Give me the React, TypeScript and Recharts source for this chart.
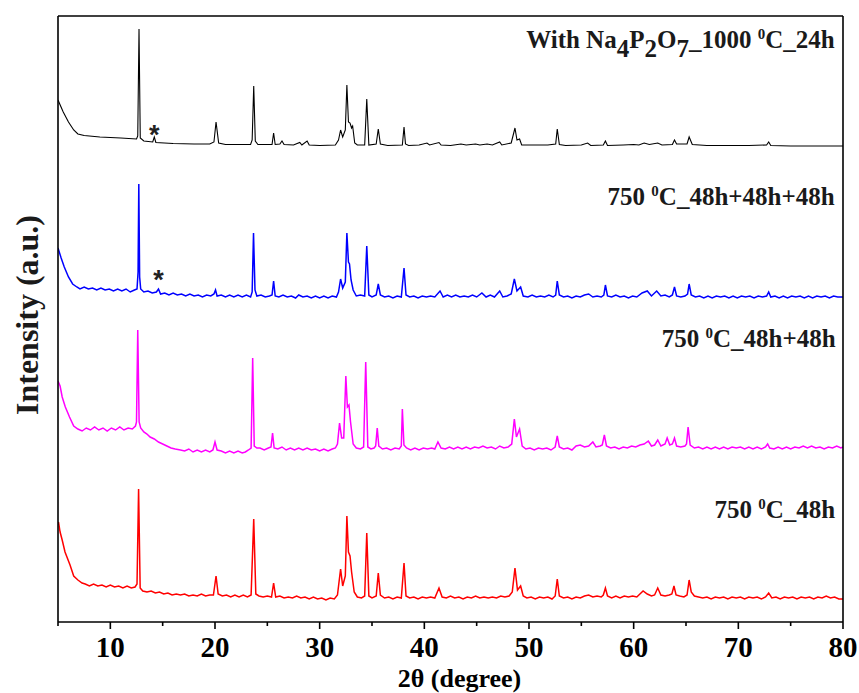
import React from "react";
import { LineChart, Line, XAxis, YAxis, ReferenceDot } from "recharts";

// 2θ (degree) vs intensity (a.u.), four stacked XRD patterns
const pattern1000C24h: [number, number][] = [
  [5.0, 522], [5.5, 510], [6.0, 500], [6.5, 492], [6.9, 488], [7.5, 486.5], [9, 485], [11, 484], [12.5, 483],
  [12.62, 486], [12.74, 593], [12.86, 484], [13.2, 481], [14.05, 480], [14.2, 485], [14.35, 479.5], [16, 478.5],
  [18, 478], [19.5, 478], [19.9, 480], [20.1, 500], [20.35, 479], [21, 477.5], [22.5, 477.5], [23.4, 477.5],
  [23.55, 482], [23.7, 536], [23.85, 481], [24.1, 477.5], [25.45, 477.5], [25.6, 489], [25.75, 477.5], [26.2, 478],
  [26.4, 481], [26.6, 477.5], [27.5, 477], [28.1, 479.5], [28.3, 477], [28.8, 481], [29, 477], [30, 476.5],
  [31.5, 477], [31.8, 482], [32.0, 492], [32.2, 485], [32.45, 492], [32.6, 537], [32.75, 500], [32.9, 499],
  [33.05, 494], [33.15, 496], [33.35, 479], [33.6, 477], [34.3, 477], [34.5, 523], [34.7, 477], [35.4, 478],
  [35.6, 493], [35.8, 478], [36.5, 476.5], [37.9, 477], [38.06, 495], [38.2, 478], [38.5, 476.5], [39.5, 477],
  [40.25, 479], [40.5, 477], [41.4, 479.5], [41.6, 477], [42.5, 476.5], [43.5, 478], [44, 477], [44.9, 478],
  [45.3, 477], [46, 478], [46.5, 477], [47.2, 480], [47.4, 477], [48.3, 479], [48.66, 494], [48.85, 482],
  [49.1, 483], [49.3, 477], [50.5, 477], [51.8, 477], [52.55, 478], [52.7, 493], [52.9, 477.5], [53.5, 476.5],
  [55, 477], [55.6, 479], [55.9, 476.5], [57.1, 477], [57.3, 481], [57.5, 476.5], [59, 477], [60, 477.5],
  [60.5, 477], [61.0, 479], [61.5, 477.5], [62.3, 479], [62.7, 477], [63.7, 477.5], [63.9, 482], [64.1, 478],
  [65.1, 478], [65.3, 485], [65.6, 477.5], [67, 476.5], [69, 476.5], [71, 476.5], [72.7, 477], [72.9, 480],
  [73.1, 476.5], [75, 476], [77, 476], [80, 476],
];

const pattern750C144h: [number, number][] = [
  [5.0, 374], [5.3, 364], [5.6, 355], [6.0, 345], [6.4, 338], [6.8, 335], [7.1, 333], [7.5, 335], [7.9, 333],
  [8.3, 334], [8.7, 332], [9.1, 334], [9.5, 332], [9.9, 333], [10.3, 331], [10.7, 333], [11.1, 331], [11.5, 333],
  [11.9, 330], [12.3, 332], [12.55, 333], [12.65, 350], [12.72, 438], [12.8, 345], [12.9, 333], [13.2, 330],
  [13.6, 331], [14.0, 329], [14.4, 330], [14.6, 333], [14.8, 328], [15.2, 329], [15.6, 327], [16.0, 329],
  [16.4, 327], [16.8, 328], [17.2, 326], [17.6, 328], [18.0, 326], [18.4, 327], [18.8, 325], [19.2, 327],
  [19.6, 326], [19.9, 328], [20.05, 332], [20.2, 326], [20.6, 327], [21.0, 325], [21.4, 327], [21.8, 325],
  [22.2, 327], [22.6, 325], [23.0, 327], [23.4, 325], [23.55, 330], [23.68, 389], [23.82, 332], [24.0, 326],
  [24.4, 327], [24.8, 325], [25.2, 326], [25.45, 327], [25.6, 341], [25.75, 326], [26.1, 325], [26.5, 327],
  [26.9, 325], [27.3, 326], [27.7, 324], [28.0, 327], [28.4, 325], [28.8, 326], [29.2, 324], [29.6, 326],
  [30.0, 324], [30.4, 326], [30.8, 324], [31.2, 326], [31.6, 325], [31.8, 330], [32.0, 343], [32.2, 334],
  [32.45, 340], [32.6, 389], [32.75, 360], [32.85, 358], [33.0, 342], [33.2, 332], [33.5, 326], [33.9, 327],
  [34.3, 326], [34.5, 376], [34.7, 327], [35.0, 325], [35.4, 327], [35.6, 338], [35.8, 327], [36.2, 325],
  [36.6, 326], [37.0, 324], [37.4, 326], [37.8, 325], [38.06, 354], [38.25, 327], [38.6, 325], [39.0, 326],
  [39.4, 324], [39.8, 326], [40.2, 325], [40.6, 326], [41.0, 325], [41.5, 331], [41.8, 325], [42.2, 327],
  [42.6, 325], [43.0, 327], [43.4, 325], [43.8, 326], [44.2, 325], [44.6, 327], [45.0, 325], [45.5, 329],
  [45.9, 325], [46.3, 327], [46.7, 325], [47.2, 331], [47.5, 325], [47.9, 326], [48.3, 328], [48.6, 343],
  [48.85, 331], [49.2, 335], [49.45, 326], [49.9, 325], [50.3, 327], [50.7, 325], [51.1, 326], [51.5, 325],
  [51.9, 327], [52.3, 325], [52.55, 327], [52.7, 341], [52.9, 327], [53.3, 325], [53.7, 326], [54.1, 324],
  [54.5, 326], [54.9, 325], [55.3, 327], [55.7, 328], [56.1, 325], [56.5, 326], [56.9, 325], [57.15, 327],
  [57.3, 337], [57.5, 326], [57.9, 325], [58.3, 327], [58.7, 325], [59.1, 326], [59.5, 324], [59.9, 326],
  [60.3, 325], [60.8, 329], [61.3, 331], [61.7, 326], [62.2, 331], [62.6, 326], [63.0, 327], [63.4, 325],
  [63.7, 327], [63.9, 335], [64.1, 326], [64.5, 325], [64.9, 326], [65.15, 328], [65.3, 338], [65.5, 327],
  [65.9, 325], [66.3, 326], [66.7, 324], [67.1, 326], [67.5, 324], [67.9, 326], [68.3, 325], [68.7, 326],
  [69.1, 324], [69.5, 326], [69.9, 324], [70.3, 326], [70.7, 325], [71.1, 326], [71.5, 324], [71.9, 326],
  [72.3, 325], [72.7, 326], [72.9, 330], [73.1, 325], [73.5, 326], [73.9, 324], [74.3, 326], [74.7, 324],
  [75.1, 326], [75.5, 325], [75.9, 326], [76.3, 324], [76.7, 326], [77.1, 324], [77.5, 326], [77.9, 325],
  [78.3, 326], [78.7, 324], [79.1, 326], [79.5, 325], [80.0, 325],
];

const pattern750C96h: [number, number][] = [
  [5.0, 241], [5.2, 236], [5.4, 225], [5.7, 215], [6.1, 205], [6.5, 196], [6.9, 193], [7.3, 191], [7.7, 194],
  [8.1, 192], [8.5, 195], [8.9, 192], [9.3, 194], [9.7, 191], [10.1, 194], [10.5, 192], [10.9, 195], [11.3, 192],
  [11.7, 194], [12.1, 193], [12.4, 196], [12.5, 200], [12.62, 292], [12.75, 200], [12.9, 194], [13.2, 190],
  [13.5, 188], [13.8, 185], [14.2, 183], [14.6, 180], [15.0, 178], [15.4, 176], [15.8, 174], [16.2, 173],
  [16.7, 172], [17.1, 171], [17.5, 173], [17.9, 170], [18.3, 172], [18.7, 170], [19.1, 172], [19.5, 170],
  [19.8, 172], [20.0, 180], [20.2, 172], [20.6, 171], [21.0, 169], [21.4, 171], [21.8, 169], [22.2, 171],
  [22.6, 169], [22.9, 170], [23.2, 172], [23.45, 174], [23.6, 264], [23.75, 176], [24.0, 174], [24.3, 174],
  [24.7, 172], [25.1, 174], [25.35, 175], [25.5, 189], [25.65, 174], [26.0, 173], [26.4, 175], [26.8, 172],
  [27.2, 174], [27.6, 172], [28.0, 174], [28.4, 172], [28.8, 174], [29.2, 172], [29.6, 173], [30.0, 171],
  [30.4, 173], [30.8, 171], [31.2, 173], [31.5, 174], [31.7, 178], [31.9, 199], [32.1, 184], [32.3, 184],
  [32.5, 246], [32.65, 215], [32.8, 217], [32.95, 200], [33.2, 178], [33.5, 174], [33.9, 173], [34.2, 175],
  [34.4, 260], [34.6, 175], [34.9, 173], [35.2, 174], [35.35, 176], [35.5, 194], [35.65, 176], [36.0, 173],
  [36.4, 174], [36.8, 172], [37.2, 174], [37.6, 173], [37.8, 176], [37.9, 213], [38.05, 177], [38.3, 174],
  [38.7, 172], [39.1, 174], [39.5, 172], [39.9, 174], [40.3, 173], [40.7, 174], [41.0, 173], [41.3, 180],
  [41.6, 174], [42.0, 173], [42.4, 175], [42.8, 173], [43.2, 175], [43.6, 173], [44.0, 175], [44.4, 173],
  [44.8, 175], [45.2, 174], [45.6, 176], [46.0, 174], [46.4, 175], [46.8, 173], [47.2, 176], [47.6, 174],
  [48.0, 175], [48.35, 178], [48.6, 203], [48.8, 185], [49.1, 193], [49.35, 176], [49.7, 173], [50.1, 174],
  [50.5, 172], [50.9, 174], [51.3, 173], [51.7, 174], [52.1, 172], [52.5, 175], [52.7, 186], [52.9, 175],
  [53.3, 173], [53.7, 174], [54.1, 172], [54.5, 176], [54.9, 177], [55.3, 175], [55.7, 176], [56.1, 180],
  [56.4, 175], [56.8, 176], [57.0, 177], [57.2, 187], [57.4, 176], [57.8, 174], [58.2, 175], [58.6, 173],
  [59.0, 175], [59.4, 174], [59.8, 176], [60.2, 175], [60.6, 177], [61.0, 178], [61.4, 181], [61.7, 176],
  [62.0, 177], [62.3, 182], [62.6, 176], [63.0, 178], [63.2, 184], [63.45, 177], [63.7, 178], [63.9, 184],
  [64.1, 176], [64.5, 175], [64.9, 176], [65.05, 178], [65.2, 195], [65.4, 177], [65.8, 174], [66.2, 175],
  [66.6, 173], [67.0, 175], [67.4, 173], [67.8, 175], [68.2, 173], [68.6, 175], [69.0, 173], [69.4, 175],
  [69.8, 174], [70.2, 175], [70.6, 173], [71.0, 175], [71.4, 173], [71.8, 175], [72.2, 173], [72.6, 175],
  [72.8, 178], [73.0, 174], [73.4, 173], [73.8, 175], [74.2, 173], [74.6, 175], [75.0, 173], [75.4, 175],
  [75.8, 174], [76.2, 176], [76.6, 174], [77.0, 176], [77.4, 174], [77.8, 175], [78.2, 173], [78.6, 175],
  [79.0, 174], [79.4, 176], [79.8, 174], [80.0, 175],
];

const pattern750C48h: [number, number][] = [
  [5.0, 97], [5.05, 100], [5.2, 90], [5.4, 82], [5.67, 70], [6.15, 57], [6.5, 46], [6.9, 42], [7.3, 39],
  [7.6, 38], [8.0, 36], [8.4, 38], [8.8, 36], [9.2, 37], [9.6, 35], [10.0, 37], [10.4, 35], [10.8, 36],
  [11.2, 34], [11.6, 36], [12.0, 34], [12.36, 35], [12.55, 38], [12.7, 133], [12.85, 34], [13.1, 31],
  [13.5, 30], [13.9, 31], [14.3, 29], [14.7, 30], [15.1, 28], [15.5, 29], [15.9, 27], [16.3, 28], [16.7, 27],
  [17.1, 28], [17.5, 26], [17.9, 27], [18.3, 26], [18.7, 28], [19.1, 26], [19.5, 27], [19.85, 27], [20.1, 46],
  [20.3, 28], [20.7, 26], [21.1, 27], [21.5, 25], [21.9, 27], [22.3, 25], [22.7, 27], [23.1, 25], [23.45, 27],
  [23.7, 103], [23.9, 28], [24.2, 26], [24.6, 25], [25.0, 26], [25.4, 25], [25.6, 39], [25.8, 25], [26.2, 26],
  [26.6, 24], [27.0, 25], [27.4, 24], [27.8, 26], [28.2, 24], [28.6, 25], [29.0, 23], [29.4, 25], [29.8, 23],
  [30.2, 24], [30.6, 22], [31.0, 24], [31.4, 23], [31.7, 27], [32.0, 53], [32.2, 36], [32.45, 46], [32.6, 106],
  [32.75, 70], [32.9, 66], [33.05, 50], [33.3, 30], [33.6, 25], [34.0, 24], [34.3, 26], [34.5, 89], [34.7, 26],
  [35.0, 24], [35.4, 26], [35.6, 49], [35.8, 27], [36.2, 24], [36.6, 25], [37.0, 23], [37.4, 25], [37.8, 24],
  [38.06, 59], [38.25, 26], [38.6, 24], [39.0, 25], [39.4, 23], [39.8, 25], [40.2, 24], [40.6, 25], [41.0, 24],
  [41.4, 34], [41.7, 25], [42.1, 24], [42.5, 26], [42.9, 24], [43.3, 25], [43.7, 23], [44.1, 25], [44.5, 24],
  [44.9, 26], [45.3, 24], [45.7, 25], [46.1, 24], [46.5, 25], [46.9, 24], [47.3, 26], [47.7, 25], [48.1, 26],
  [48.4, 30], [48.66, 54], [48.9, 32], [49.2, 36], [49.45, 26], [49.8, 24], [50.2, 25], [50.6, 23], [51.0, 25],
  [51.4, 24], [51.8, 25], [52.2, 23], [52.5, 26], [52.7, 43], [52.9, 26], [53.3, 24], [53.7, 25], [54.1, 23],
  [54.5, 25], [54.9, 24], [55.3, 26], [55.7, 27], [56.1, 25], [56.5, 26], [56.9, 25], [57.1, 27], [57.3, 34],
  [57.5, 26], [57.9, 24], [58.3, 26], [58.7, 24], [59.1, 26], [59.5, 25], [59.9, 26], [60.3, 25], [60.9, 31],
  [61.3, 28], [61.7, 26], [62.0, 27], [62.3, 34], [62.6, 27], [63.0, 26], [63.4, 27], [63.65, 28], [63.85, 36],
  [64.05, 27], [64.4, 26], [64.8, 25], [65.1, 27], [65.3, 42], [65.5, 30], [65.8, 26], [66.2, 25], [66.6, 24],
  [67.0, 25], [67.4, 23], [67.8, 25], [68.2, 24], [68.6, 25], [69.0, 23], [69.4, 25], [69.8, 24], [70.2, 25],
  [70.6, 23], [71.0, 25], [71.4, 24], [71.8, 25], [72.2, 23], [72.6, 25], [72.9, 29], [73.2, 24], [73.6, 25],
  [74.0, 23], [74.4, 25], [74.8, 24], [75.2, 25], [75.6, 23], [76.0, 25], [76.4, 24], [76.8, 25], [77.2, 23],
  [77.6, 25], [78.0, 24], [78.4, 26], [78.8, 24], [79.2, 25], [79.6, 23], [80.0, 23],
];

const xTicks = [5, 10, 15, 20, 25, 30, 35, 40, 45, 50, 55, 60, 65, 70, 75, 80];
const xDomain: [number, number] = [5, 80];
const yDomain: [number, number] = [0, 606];

// impurity marks (*) : [2θ, intensity]
const impurityMarks: [number, number][] = [
  [14.2, 494],
  [14.6, 349],
];

// sample labels: [2θ anchor (right end), intensity at baseline]
const labelAnchors = {
  na4p2o7: [79.2, 574],
  h144: [79.2, 417],
  h96: [79.3, 275],
  h48: [79.25, 104],
};

const toPoints = (arr: [number, number][]) => arr.map(([x, y]) => ({ x, y }));

const FONT = '"Liberation Serif", "Times New Roman", Times, serif';

const XTick = (props: any) => {
  const { x, y, payload } = props;
  const v = payload.value;
  const major = v % 10 === 0;
  return (
    <g>
      <line x1={x} x2={x} y1={y} y2={y + (major ? 7 : 4)} stroke="#000" strokeWidth={1.6} />
      {major && (
        <text x={x} y={y + 35} textAnchor="middle" fontFamily={FONT} fontWeight="bold" fontSize={29} fill="#000">
          {v}
        </text>
      )}
    </g>
  );
};

const labelStyle = { fontFamily: FONT, fontWeight: "bold" as const, fontSize: 25, fill: "#1a1a1a" };

const vb = (p: any) => {
  const v = p.viewBox || {};
  return { x: (v.x ?? 0) + (v.width ?? 0) / 2, y: (v.y ?? 0) + (v.height ?? 0) / 2 };
};

const NaLabel = (p: any) => {
  const { x, y } = vb(p);
  return (
    <text x={x} y={y} textAnchor="end" {...labelStyle}>
      With Na<tspan dy={9}>4</tspan>
      <tspan dy={-9}>P</tspan>
      <tspan dy={9}>2</tspan>
      <tspan dy={-9}>O</tspan>
      <tspan dy={9}>7</tspan>
      <tspan dy={-9}>_1000 </tspan>
      <tspan dy={-9} fontSize={15}>0</tspan>
      <tspan dy={9}>C_24h</tspan>
    </text>
  );
};

const makeTempLabel = (suffix: string) => (p: any) => {
  const { x, y } = vb(p);
  return (
    <text x={x} y={y} textAnchor="end" {...labelStyle}>
      750 <tspan dy={-9} fontSize={15}>0</tspan>
      <tspan dy={9}>{"C_" + suffix}</tspan>
    </text>
  );
};

const StarLabel = (p: any) => {
  const { x, y } = vb(p);
  return (
    <text x={x} y={y + 16} textAnchor="middle" fontFamily='"Liberation Sans", Arial, sans-serif' fontWeight="bold" fontSize={27} fill="#222">
      *
    </text>
  );
};

const XTitle = (p: any) => {
  const v = p.viewBox || {};
  return (
    <text x={(v.x ?? 0) + (v.width ?? 0) / 2 + 9} y={687} textAnchor="middle" fontFamily={FONT} fontWeight="bold" fontSize={26} fill="#000">
      2θ (degree)
    </text>
  );
};

const YTitle = () => (
  <text x={27} y={315} transform="rotate(-90, 27, 315)" textAnchor="middle" dominantBaseline="central" fontFamily={FONT} fontWeight="bold" fontSize={32} fill="#1a1a1a">
    Intensity (a.u.)
  </text>
);

export default function App() {
  return (
    <div style={{ position: "absolute", left: 0, top: 0, width: 859, height: 693, background: "#fff" }}>
      <LineChart width={859} height={693} margin={{ top: 0, right: 0, bottom: 0, left: 0 }}>
        <XAxis
          dataKey="x"
          type="number"
          domain={xDomain}
          ticks={xTicks}
          interval={0}
          allowDataOverflow
          height={71}
          tickSize={0}
          tickMargin={0}
          tickLine={false}
          tick={<XTick />}
          axisLine={{ stroke: "#000", strokeWidth: 1.6 }}
          label={<XTitle />}
        />
        <XAxis
          xAxisId="top"
          orientation="top"
          dataKey="x"
          type="number"
          domain={xDomain}
          height={16}
          tick={false}
          tickLine={false}
          axisLine={{ stroke: "#000", strokeWidth: 1.6 }}
        />
        <YAxis
          type="number"
          domain={yDomain}
          width={58}
          tick={false}
          tickLine={false}
          axisLine={{ stroke: "#000", strokeWidth: 1.6 }}
          label={<YTitle />}
        />
        <YAxis
          yAxisId="right"
          orientation="right"
          type="number"
          domain={yDomain}
          width={16}
          tick={false}
          tickLine={false}
          axisLine={{ stroke: "#000", strokeWidth: 1.6 }}
        />
        <Line data={toPoints(pattern750C48h)} dataKey="y" stroke="#ff0000" strokeWidth={1.5} dot={false} isAnimationActive={false} />
        <Line data={toPoints(pattern750C96h)} dataKey="y" stroke="#ff00ff" strokeWidth={1.5} dot={false} isAnimationActive={false} />
        <Line data={toPoints(pattern750C144h)} dataKey="y" stroke="#0000ff" strokeWidth={1.5} dot={false} isAnimationActive={false} />
        <Line data={toPoints(pattern1000C24h)} dataKey="y" stroke="#000000" strokeWidth={1.1} dot={false} isAnimationActive={false} />
        {impurityMarks.map(([x, y], i) => (
          <ReferenceDot key={"s" + i} x={x} y={y} r={0} fill="none" stroke="none" label={<StarLabel />} />
        ))}
        <ReferenceDot x={labelAnchors.na4p2o7[0]} y={labelAnchors.na4p2o7[1]} r={0} fill="none" stroke="none" label={<NaLabel />} />
        <ReferenceDot x={labelAnchors.h144[0]} y={labelAnchors.h144[1]} r={0} fill="none" stroke="none" label={React.createElement(makeTempLabel("48h+48h+48h"))} />
        <ReferenceDot x={labelAnchors.h96[0]} y={labelAnchors.h96[1]} r={0} fill="none" stroke="none" label={React.createElement(makeTempLabel("48h+48h"))} />
        <ReferenceDot x={labelAnchors.h48[0]} y={labelAnchors.h48[1]} r={0} fill="none" stroke="none" label={React.createElement(makeTempLabel("48h"))} />
      </LineChart>
    </div>
  );
}
